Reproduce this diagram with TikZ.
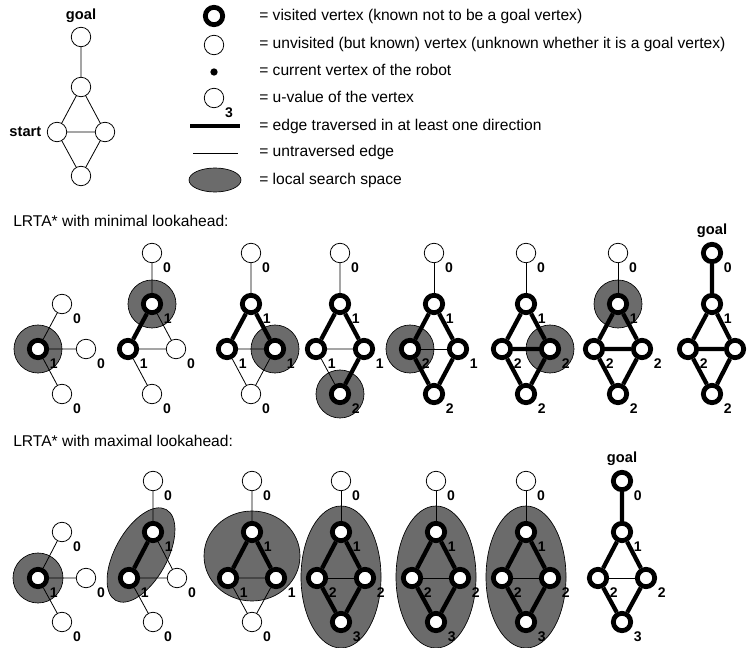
\documentclass[tikz,border=0pt]{standalone}
\usepackage{fontspec}
\setmainfont{Liberation Sans}
\usetikzlibrary{calc}
\pgfdeclarelayer{bg}
\pgfsetlayers{bg,main}
\begin{document}
\begin{tikzpicture}[x=0.75pt,y=-0.75pt,font=\fontsize{11.7}{14}\selectfont]
\tikzset{unvisited/.style={circle,draw,fill=white,line width=0.6pt,minimum size=14.6pt,inner sep=0pt},
visited/.style={circle,draw,fill=white,line width=3.6pt,minimum size=13pt,inner sep=0pt},
robot/.style={visited,path picture={\fill (path picture bounding box.center) circle (2.5pt);}},
uval/.style={inner sep=0pt,label distance=3pt,font=\bfseries\fontsize{10.5}{10.5}\selectfont},
uv/.style={label={[uval]-40:#1}},
tag/.style={inner sep=0pt,label distance=3pt,font=\bfseries\fontsize{11}{11}\selectfont},
goaltag/.style={label={[tag]above:goal}},
travd/.style={line width=3.2pt},
untrav/.style={line width=0.6pt},
searchspace/.style={fill=black!58,draw=black,line width=0.5pt},
legendtext/.style={anchor=base west,inner sep=0pt},
}
\useasboundingbox (0,0) rectangle (748,648);

\node[unvisited,goaltag] (lgoal) at (81,37) {};
\node[unvisited] (ltop) at (81,87) {};
\node[unvisited,label={[tag,label distance=4pt]left:start}] (lstart) at (57,132) {};
\node[unvisited] (lright) at (105,132) {};
\node[unvisited] (lbottom) at (81,176) {};
\draw[untrav] (lgoal) -- (ltop) (ltop) -- (lstart) (ltop) -- (lright) (lstart) -- (lright) (lstart) -- (lbottom) (lright) -- (lbottom);

\node[visited] (symvis) at (214,16) {};
\node[unvisited] (symunv) at (214,45) {};
\node[circle,fill,inner sep=0pt,minimum size=5.5pt] (symrob) at (214,72) {};
\node[unvisited,uv=3] (symu) at (214,98) {};
\coordinate (thk1) at (190,126);
\coordinate (thk2) at (240,126);
\draw[travd] (thk1) -- (thk2);
\coordinate (thn1) at (193,153);
\coordinate (thn2) at (238,153);
\draw[untrav] (thn1) -- (thn2);
\draw[searchspace] (215,180) ellipse (26 and 12);

\node[legendtext] (txtvis) at (259,21) {= visited vertex (known not to be a goal vertex)};
\node[legendtext] (txtunv) at (259,49) {= unvisited (but known) vertex (unknown whether it is a goal vertex)};
\node[legendtext] (txtrob) at (259,76) {= current vertex of the robot};
\node[legendtext] (txtu) at (259,103) {= u-value of the vertex};
\node[legendtext] (txtthk) at (259,131) {= edge traversed in at least one direction};
\node[legendtext] (txtthn) at (259,157) {= untraversed edge};
\node[legendtext] (txtspace) at (259,185) {= local search space};

\node[legendtext] (titlemin) at (13,227) {LRTA* with minimal lookahead:};
\node[legendtext] (titlemax) at (13,446) {LRTA* with maximal lookahead:};

\node[robot,uv=1] (a1l) at (38,349) {};
\node[unvisited,uv=0] (a1t) at (62,304) {};
\node[unvisited,uv=0] (a1r) at (86,349) {};
\node[unvisited,uv=0] (a1b) at (62,394) {};
\draw[untrav] (a1l) -- (a1t) (a1l) -- (a1r) (a1l) -- (a1b);

\node[unvisited,uv=0] (a2g) at (152,253) {};
\node[robot,uv=1] (a2t) at (152,304) {};
\node[visited,uv=1] (a2l) at (128,349) {};
\node[unvisited,uv=0] (a2r) at (176,349) {};
\node[unvisited,uv=0] (a2b) at (152,394) {};
\draw[travd] (a2l) -- (a2t);
\draw[untrav] (a2t) -- (a2g) (a2t) -- (a2r) (a2l) -- (a2r) (a2l) -- (a2b);

\node[unvisited,uv=0] (a3g) at (251,253) {};
\node[visited,uv=1] (a3t) at (251,304) {};
\node[visited,uv=1] (a3l) at (227,349) {};
\node[robot,uv=1] (a3r) at (275,349) {};
\node[unvisited,uv=0] (a3b) at (251,394) {};
\draw[travd] (a3l) -- (a3t) (a3t) -- (a3r);
\draw[untrav] (a3t) -- (a3g) (a3l) -- (a3r) (a3l) -- (a3b) (a3r) -- (a3b);

\node[unvisited,uv=0] (a4g) at (340,253) {};
\node[visited,uv=1] (a4t) at (340,304) {};
\node[visited,uv=1] (a4l) at (316,349) {};
\node[visited,uv=1] (a4r) at (364,349) {};
\node[robot,uv=2] (a4b) at (340,394) {};
\draw[travd] (a4l) -- (a4t) (a4t) -- (a4r) (a4r) -- (a4b);
\draw[untrav] (a4t) -- (a4g) (a4l) -- (a4r) (a4l) -- (a4b);

\node[unvisited,uv=0] (a5g) at (434,253) {};
\node[visited,uv=1] (a5t) at (434,304) {};
\node[robot,uv=2] (a5l) at (410,349) {};
\node[visited,uv=1] (a5r) at (458,349) {};
\node[visited,uv=2] (a5b) at (434,394) {};
\draw[travd] (a5l) -- (a5t) (a5t) -- (a5r) (a5r) -- (a5b) (a5b) -- (a5l);
\draw[untrav] (a5t) -- (a5g) (a5l) -- (a5r);

\node[unvisited,uv=0] (a6g) at (526,253) {};
\node[visited,uv=1] (a6t) at (526,304) {};
\node[visited,uv=2] (a6l) at (502,349) {};
\node[robot,uv=2] (a6r) at (550,349) {};
\node[visited,uv=2] (a6b) at (526,394) {};
\draw[travd] (a6l) -- (a6t) (a6t) -- (a6r) (a6r) -- (a6b) (a6b) -- (a6l) (a6l) -- (a6r);
\draw[untrav] (a6t) -- (a6g);

\node[unvisited,uv=0] (a7g) at (618,253) {};
\node[robot,uv=1] (a7t) at (618,304) {};
\node[visited,uv=2] (a7l) at (594,349) {};
\node[visited,uv=2] (a7r) at (642,349) {};
\node[visited,uv=2] (a7b) at (618,394) {};
\draw[travd] (a7l) -- (a7t) (a7t) -- (a7r) (a7r) -- (a7b) (a7b) -- (a7l) (a7l) -- (a7r);
\draw[untrav] (a7t) -- (a7g);

\node[robot,goaltag,uv=0] (a8g) at (712,253) {};
\node[visited,uv=1] (a8t) at (712,304) {};
\node[visited,uv=2] (a8l) at (688,349) {};
\node[visited] (a8r) at (735,349) {};
\node[visited,uv=2] (a8b) at (712,394) {};
\draw[travd] (a8g) -- (a8t) (a8l) -- (a8t) (a8t) -- (a8r) (a8r) -- (a8b) (a8b) -- (a8l) (a8l) -- (a8r);

\node[robot,uv=1] (b1l) at (38,578) {};
\node[unvisited,uv=0] (b1t) at (62,532) {};
\node[unvisited,uv=0] (b1r) at (86,578) {};
\node[unvisited,uv=0] (b1b) at (62,622) {};
\draw[untrav] (b1l) -- (b1t) (b1l) -- (b1r) (b1l) -- (b1b);

\node[unvisited,uv=0] (b2g) at (153,481) {};
\node[robot,uv=1] (b2t) at (153,532) {};
\node[visited,uv=1] (b2l) at (129,578) {};
\node[unvisited,uv=0] (b2r) at (177,578) {};
\node[unvisited,uv=0] (b2b) at (153,622) {};
\draw[travd] (b2l) -- (b2t);
\draw[untrav] (b2t) -- (b2g) (b2t) -- (b2r) (b2l) -- (b2r) (b2l) -- (b2b);

\node[unvisited,uv=0] (b3g) at (252,481) {};
\node[visited,uv=1] (b3t) at (252,532) {};
\node[visited,uv=1] (b3l) at (228,578) {};
\node[robot,uv=1] (b3r) at (276,578) {};
\node[unvisited,uv=0] (b3b) at (252,622) {};
\draw[travd] (b3l) -- (b3t) (b3t) -- (b3r);
\draw[untrav] (b3t) -- (b3g) (b3l) -- (b3r) (b3l) -- (b3b) (b3r) -- (b3b);

\node[unvisited,uv=0] (b4g) at (341,481) {};
\node[visited,uv=1] (b4t) at (341,532) {};
\node[visited,uv=2] (b4l) at (317,578) {};
\node[visited,uv=2] (b4r) at (365,578) {};
\node[robot,uv=3] (b4b) at (341,622) {};
\draw[travd] (b4l) -- (b4t) (b4t) -- (b4r) (b4r) -- (b4b) (b4b) -- (b4l);
\draw[untrav] (b4t) -- (b4g) (b4l) -- (b4r);

\node[unvisited,uv=0] (b5g) at (436,481) {};
\node[visited,uv=1] (b5t) at (436,532) {};
\node[robot,uv=2] (b5l) at (412,578) {};
\node[visited,uv=2] (b5r) at (460,578) {};
\node[visited,uv=3] (b5b) at (436,622) {};
\draw[travd] (b5l) -- (b5t) (b5t) -- (b5r) (b5r) -- (b5b) (b5b) -- (b5l);
\draw[untrav] (b5t) -- (b5g) (b5l) -- (b5r);

\node[unvisited,uv=0] (b6g) at (526,481) {};
\node[robot,uv=1] (b6t) at (526,532) {};
\node[visited,uv=2] (b6l) at (502,578) {};
\node[visited,uv=2] (b6r) at (550,578) {};
\node[visited,uv=3] (b6b) at (526,622) {};
\draw[travd] (b6l) -- (b6t) (b6t) -- (b6r) (b6r) -- (b6b) (b6b) -- (b6l);
\draw[untrav] (b6t) -- (b6g) (b6l) -- (b6r);

\node[robot,goaltag,uv=0] (b7g) at (622,481) {};
\node[visited,uv=1] (b7t) at (622,532) {};
\node[visited,uv=2] (b7l) at (598,578) {};
\node[visited,uv=2] (b7r) at (646,578) {};
\node[visited,uv=3] (b7b) at (622,622) {};
\draw[travd] (b7g) -- (b7t) (b7l) -- (b7t) (b7t) -- (b7r) (b7r) -- (b7b) (b7b) -- (b7l);
\draw[untrav] (b7l) -- (b7r);

\coordinate (b2m) at ($(b2l)!0.5!(b2t)$);
\coordinate (b3m) at ($(b3t)+(0,24)$);
\begin{pgfonlayer}{bg}
\draw[searchspace] (a1l) circle (24) (a2t) circle (24) (a3r) circle (24) (a4b) circle (24) (a5l) circle (24) (a6r) circle (24) (a7t) circle (24);
\draw[searchspace] (b1l) circle (25);
\draw[searchspace,rotate around={61:(b2m)}] (b2m) ellipse (52 and 26);
\draw[searchspace] (b3m) ellipse (48 and 45);
\draw[searchspace] ($(b4t)!0.5!(b4b)$) ellipse (40 and 71);
\draw[searchspace] ($(b5t)!0.5!(b5b)$) ellipse (40 and 71);
\draw[searchspace] ($(b6t)!0.5!(b6b)$) ellipse (40 and 71);
\end{pgfonlayer}
\end{tikzpicture}
\end{document}
